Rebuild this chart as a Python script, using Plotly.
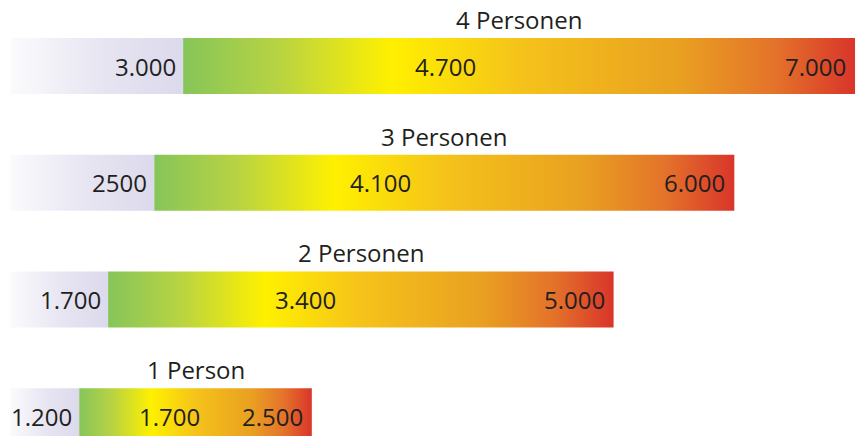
import plotly.graph_objects as go

# ---- data ----
groups = ["1 Person", "2 Personen", "3 Personen", "4 Personen"]
low_values = [1200, 1700, 2500, 3000]
mid_values = [1700, 3400, 4100, 4700]
high_values = [2500, 5000, 6000, 7000]
low_labels = ["1.200", "1.700", "2500", "3.000"]
mid_labels = ["1.700", "3.400", "4.100", "4.700"]
high_labels = ["2.500", "5.000", "6.000", "7.000"]

# ---- style ----
FONT = "Open Sans"
TXT = "#231f20"
HALF = 0.24            # half bar thickness (y units)
BASE_SCALE = 0.478     # the infographic draws the 0..low base segment compressed
MID_POS = 0.39         # mid label placed near the yellow part of the gradient
grey_scale = [[0, "#fbfbfd"], [0.5, "#e8e6f2"], [1, "#dcd9ec"]]
heat_scale = [
    [0.0, "#86c55a"],
    [0.14, "#b7d343"],
    [0.31, "#fff000"],
    [0.5, "#f5c31a"],
    [0.74, "#e9a021"],
    [0.88, "#e4732a"],
    [1.0, "#d9352a"],
]

fig = go.Figure()
annotations = []
for i, g in enumerate(groups):
    lo = low_values[i] * BASE_SCALE
    hi = high_values[i]
    mi = lo + MID_POS * (hi - lo)
    y0, y1 = i - HALF, i + HALF
    fig.add_trace(go.Scatter(
        x=[0, lo, lo, 0, 0], y=[y0, y0, y1, y1, y0],
        fill="toself", mode="lines", line=dict(width=0),
        fillgradient=dict(type="horizontal", colorscale=grey_scale, start=0, stop=lo),
        hoverinfo="skip", showlegend=False,
    ))
    fig.add_trace(go.Scatter(
        x=[lo, hi, hi, lo, lo], y=[y0, y0, y1, y1, y0],
        fill="toself", mode="lines", line=dict(width=0),
        fillgradient=dict(type="horizontal", colorscale=heat_scale, start=lo, stop=hi),
        hoverinfo="skip", showlegend=False,
    ))
    f = dict(family=FONT, size=24, color=TXT)
    annotations.append(dict(x=lo, y=i, text=low_labels[i], xanchor="right", yanchor="middle",
                            xshift=-5, showarrow=False, font=f))
    annotations.append(dict(x=mi, y=i, text=mid_labels[i], xanchor="center", yanchor="middle",
                            showarrow=False, font=f))
    annotations.append(dict(x=hi, y=i, text=high_labels[i], xanchor="right", yanchor="middle",
                            xshift=-7, showarrow=False, font=f))
    annotations.append(dict(x=(lo + hi) / 2, y=y1, text=g, xanchor="center", yanchor="bottom",
                            yshift=0, showarrow=False, font=f))

fig.update_layout(
    width=856, height=436,
    margin=dict(l=0, r=0, t=0, b=0),
    paper_bgcolor="white", plot_bgcolor="white",
    xaxis=dict(range=[-83, 7008], visible=False, fixedrange=True),
    yaxis=dict(range=[-0.17, 3.566], visible=False, fixedrange=True),
    annotations=annotations,
    showlegend=False,
)
fig.write_html("out.html")
